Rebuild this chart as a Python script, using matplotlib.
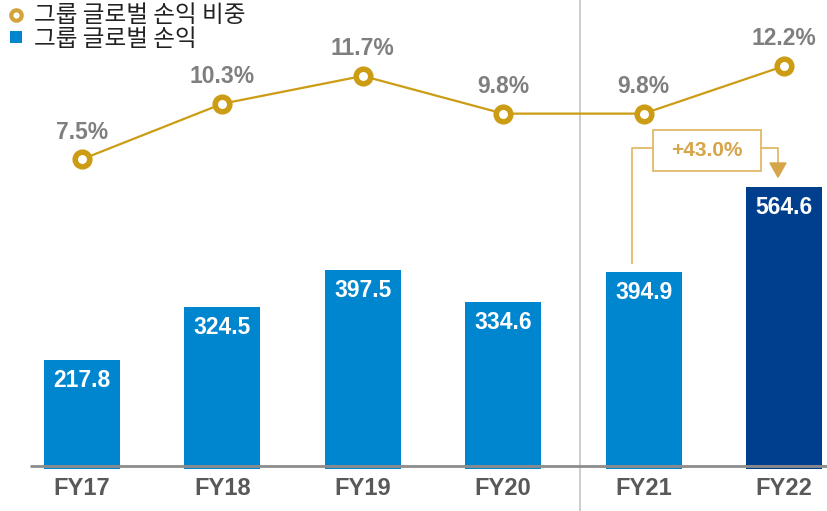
import numpy as np
import matplotlib.pyplot as plt
from matplotlib.patches import Rectangle, Polygon

plt.rcParams['font.family'] = ['Liberation Sans', 'Noto Sans CJK KR', 'DejaVu Sans']

# data
years = ['FY17', 'FY18', 'FY19', 'FY20', 'FY21', 'FY22']
profit = [217.8, 324.5, 397.5, 334.6, 394.9, 564.6]      # 그룹 글로벌 손익
share = [7.5, 10.3, 11.7, 9.8, 9.8, 12.2]                 # 그룹 글로벌 손익 비중 (%)
growth_label = '+43.0%'

bar_colors = ['#0085CF'] * 5 + ['#003F8E']
gold = '#CC9C14'
ann = '#E0B96A'
ann_dark = '#D6A449'

fig = plt.figure(figsize=(8.27, 5.11), dpi=100)
ax = fig.add_axes([0, 0, 1, 1])
x = np.arange(len(years))

ax.bar(x, profit, width=0.54, color=bar_colors, zorder=2)
for xi, v in zip(x, profit):
    ax.text(xi, v - 41, f'{v:.1f}', ha='center', va='center', color='white',
            fontsize=16.5, fontweight='bold', zorder=4)

ax.set_xlim(-0.584, 5.306)
ax.set_ylim(-84, 938)
ax.axis('off')

# baseline and separator
ax.plot([-0.37, 5.306], [6, 6], color='#8C8C8C', lw=2, zorder=3, solid_capstyle='butt')
ax.axvline(3.55, color='#C8C8C8', lw=1.3, zorder=1)

for xi, lab in zip(x, years):
    ax.text(xi, -38, lab, ha='center', va='center', color='#595959',
            fontsize=17, fontweight='bold')

# share line on twin scale
ax2 = ax.twinx()
ax2.set_ylim(-10.24, 15.53)
ax2.axis('off')
ax2.plot(x, share, color=gold, lw=1.6, marker='o', ms=10.5, mew=4,
         mfc='white', mec=gold, zorder=5)
for xi, s in zip(x, share):
    ax2.annotate(f'{s:.1f}%', (xi, s), xytext=(0, 19.5), textcoords='offset points',
                 ha='center', va='center', color='#7F7F7F', fontsize=16.5,
                 fontweight='bold')

# growth annotation FY21 -> FY22
y_h = 642
ax.plot([3.92, 3.92, 4.067], [profit[4] + 18, y_h, y_h], color=ann, lw=1.3, zorder=3)
ax.add_patch(Rectangle((4.067, 596), 0.769, 82, fill=False, ec=ann, lw=1.3, zorder=3))
ax.text(4.45, 637, growth_label, ha='center', va='center', color=ann_dark,
        fontsize=15, fontweight='bold')
ax.plot([4.836, 4.957, 4.957], [y_h, y_h, 612], color=ann, lw=1.3, zorder=3)
ax.add_patch(Polygon([[4.957 - 0.057, 612], [4.957 + 0.057, 612], [4.957, profit[5] + 19]],
                     closed=True, color=ann_dark, zorder=3))

# legend
lx = 16 / 827
fig.add_artist(plt.Line2D([lx], [1 - 15 / 511], marker='o', ms=7.5, mew=3,
                          mfc='white', mec='#D4A43A', transform=fig.transFigure))
fig.add_artist(plt.Line2D([lx], [1 - 37 / 511], marker='s', ms=8.7, mew=0,
                          mfc='#0085CF', transform=fig.transFigure))
fig.text(34 / 827, 1 - 15 / 511, '그룹 글로벌 손익 비중', va='center', ha='left',
         fontsize=17, color='#222222', family=['Noto Sans CJK KR', 'DejaVu Sans'])
fig.text(34 / 827, 1 - 39 / 511, '그룹 글로벌 손익', va='center', ha='left',
         fontsize=17, color='#222222', family=['Noto Sans CJK KR', 'DejaVu Sans'])

fig.savefig('out.png', dpi=100)
